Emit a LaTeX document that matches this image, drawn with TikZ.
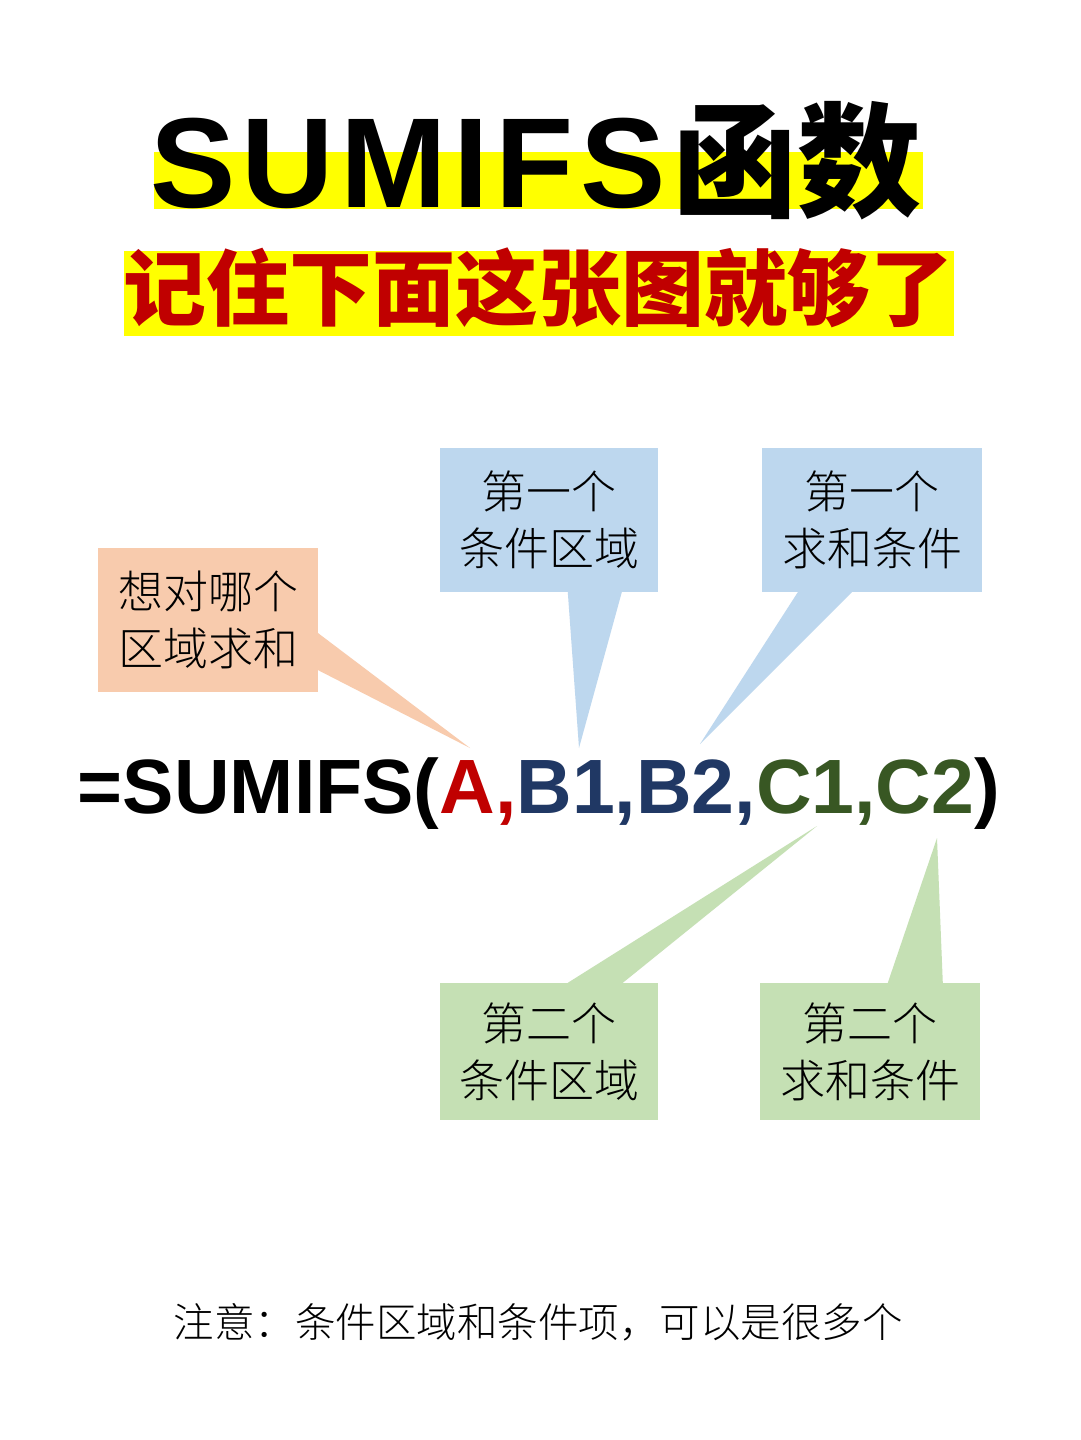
\documentclass[tikz,border=0pt]{standalone}
\usepackage{fontspec}
\usepackage{xcolor}
\usepackage{tikz}
\usetikzlibrary{positioning, calc}
\newfontfamily\cjk{Noto Sans CJK SC}
\newfontfamily\cjklight{Noto Sans CJK SC Light}
\newfontfamily\arial{Liberation Sans}
\newfontfamily\arialwide{Liberation Sans}[LetterSpace=5]
\definecolor{hlyellow}{RGB}{255, 255, 0}
\definecolor{titlered}{RGB}{192, 0, 0}
\definecolor{argred}{RGB}{192, 0, 0}
\definecolor{argblue}{RGB}{32, 56, 100}
\definecolor{arggreen}{RGB}{56, 87, 35}
\definecolor{calloutorange}{RGB}{248, 203, 173}
\definecolor{calloutblue}{RGB}{189, 215, 238}
\definecolor{calloutgreen}{RGB}{197, 224, 180}
\pgfdeclarelayer{background}
\pgfsetlayers{background,main}

\begin{document}
\begin{tikzpicture}[x=1pt, y=-1pt,
    tipbox/.style={inner sep=0pt, align=center, text=black,
      font=\cjklight\fontsize{45}{57}\selectfont}]
    \useasboundingbox (0,0) rectangle (1080,1440);

    % title
    \fill[hlyellow] (154,152) rectangle (923,209);
    \node[anchor=base] (title) at (536,207)
      {\arialwide\bfseries\fontsize{128}{128}\selectfont SUMIFS\hspace{8pt}{\cjk\fontsize{124}{124}\selectfont 函数}};
    \fill[hlyellow] (124,251) rectangle (954,336);
    \node[anchor=base, text=titlered] (subtitle) at (538,319)
      {\cjk\bfseries\fontsize{83}{83}\selectfont 记住下面这张图就够了};

    \node[anchor=base] (formula) at (539,813)
      {\arial\bfseries\fontsize{77}{77}\selectfont =SUMIFS(\textcolor{argred}{A,}\textcolor{argblue}{B1,B2,}\textcolor{arggreen}{C1,C2})};

    \node[tipbox, fill=calloutorange, minimum width=220pt, minimum height=144pt] (area) at (208,620) {想对哪个\\区域求和};
    \node[tipbox, fill=calloutblue, minimum width=218pt, minimum height=144pt] (cond1) at (549,520) {第一个\\条件区域};
    \node[tipbox, fill=calloutblue, minimum width=220pt, minimum height=144pt] (crit1) at (872,520) {第一个\\求和条件};
    \node[tipbox, fill=calloutgreen, minimum width=218pt, minimum height=137pt] (cond2) at (549,1051.5) {第二个\\条件区域};
    \node[tipbox, fill=calloutgreen, minimum width=220pt, minimum height=137pt] (crit2) at (870,1051.5) {第二个\\求和条件};

    \coordinate (tipA) at (470,748);
    \coordinate (tipB1) at (579,748);
    \coordinate (tipB2) at (700,744);
    \coordinate (tipC1) at (817,826);
    \coordinate (tipC2) at (937,838);

    \begin{pgfonlayer}{background}
      \fill[white] (0,0) rectangle (1080,1440);
      \fill[calloutorange] (tipA) -- ([yshift=59pt]area.south east) -- (area.center) -- ([yshift=22pt]area.south east) -- cycle;
      \fill[calloutblue] (tipB1) -- ([xshift=128pt]cond1.south west) -- (cond1.center) -- ([xshift=182pt]cond1.south west) -- cycle;
      \fill[calloutblue] (tipB2) -- ([xshift=36pt]crit1.south west) -- (crit1.center) -- ([xshift=90pt]crit1.south west) -- cycle;
      \fill[calloutgreen] (tipC1) -- ([xshift=128pt]cond2.north west) -- (cond2.center) -- ([xshift=183pt]cond2.north west) -- cycle;
      \fill[calloutgreen] (tipC2) -- ([xshift=128pt]crit2.north west) -- (crit2.center) -- ([xshift=183pt]crit2.north west) -- cycle;
    \end{pgfonlayer}

    \node (note) at (538,1322) {\cjklight\fontsize{40.5}{40.5}\selectfont 注意：条件区域和条件项，可以是很多个};
  \end{tikzpicture}
\end{document}
